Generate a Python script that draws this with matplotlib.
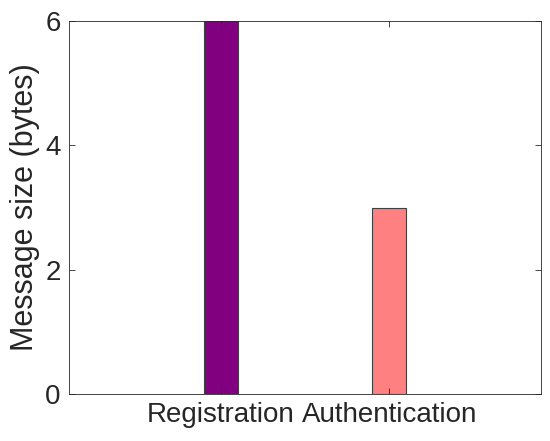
import matplotlib.pyplot as plt

# DATA
labels = ["Registration", "Authentication"]
sizes = [6, 3]
colors = ["#800080", "#FF8080"]
positions = [1, 2]

plt.rcParams["font.family"] = ["Liberation Sans", "DejaVu Sans"]

fig = plt.figure(figsize=(5.5, 4.41), dpi=100)
ax = fig.add_axes([69 / 550, 1 - 394 / 441, 472 / 550, 373 / 441])

ax.bar(positions, sizes, width=0.2, color=colors, edgecolor="#404040", linewidth=0.8)

ax.set_xlim(0.1, 2.9)
ax.set_ylim(0, 6)
ax.set_xticks(positions)
ax.set_xticklabels(labels)
ax.set_yticks([0, 2, 4, 6])
ax.set_ylabel("Message size (bytes)", fontsize=22, color="#262626", labelpad=4)

ax.tick_params(axis="both", direction="in", labelsize=20, labelcolor="#262626",
               color="#262626", length=4, width=0.6, right=True, top=True, pad=6)
ax.set_axisbelow(False)
for s in ax.spines.values():
    s.set_color("#262626")
    s.set_linewidth(0.6)

fig.savefig("out.png", dpi=100)
